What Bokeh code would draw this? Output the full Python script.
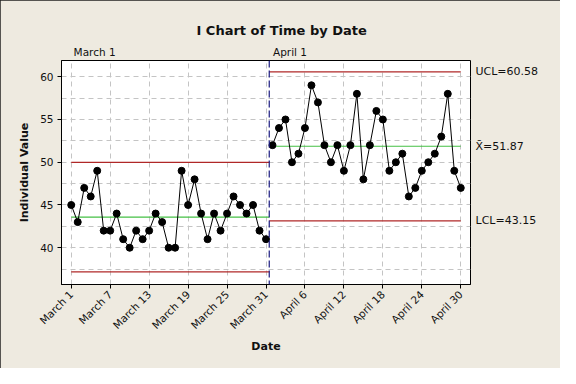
import math
from bokeh.plotting import figure
from bokeh.models import FixedTicker, Span, ColumnDataSource, LinearAxis
from bokeh.embed import file_html
from bokeh.resources import INLINE

# ---- data ----
march_values = [45, 43, 47, 46, 49, 42, 42, 44, 41, 40, 42, 41, 42, 44, 43, 40,
                40, 49, 45, 48, 44, 41, 44, 42, 44, 46, 45, 44, 45, 42, 41]
april_values = [52, 54, 55, 50, 51, 54, 59, 57, 52, 50, 52, 49, 52, 58, 48, 52,
                56, 55, 49, 50, 51, 46, 47, 49, 50, 51, 53, 58, 49, 47]
values = march_values + april_values
index = list(range(len(values)))

tick_positions = [0, 6, 12, 18, 24, 30, 36, 42, 48, 54, 60]
tick_labels = ["March 1", "March 7", "March 13", "March 19", "March 25", "March 31",
               "April 6", "April 12", "April 18", "April 24", "April 30"]

stage_names = ["March 1", "April 1"]
stage_label_x = [3.6, 33.7]
stage_start = [0, 30.5]
stage_end = [30.5, 60]
stage_center = [43.58, 51.87]
stage_ucl = [49.99, 60.58]
stage_lcl = [37.17, 43.15]
stage_split = 30.5

y_ticks = [40, 45, 50, 55, 60]
y_minor = [37.5, 42.5, 47.5, 52.5, 57.5]

FONT = "DejaVu Sans"
BG = "#EEEAE0"
TXT = "#111111"

p = figure(width=560, height=368, output_backend="svg", toolbar_location=None,
           x_range=(-1.5, 61.5), y_range=(35.7, 61.9),
           min_border_left=61, min_border_right=90, min_border_top=60, min_border_bottom=84,
           styles={"outline": "1px solid #222222", "outline-offset": "-1px"})
p.border_fill_color = BG
p.background_fill_color = "white"
p.outline_line_color = "black"
p.outline_line_width = 1

# title
p.title.text = "I Chart of Time by Date"
p.title.align = "left"
p.title.offset = 135
p.title.text_font = FONT
p.title.text_font_size = "13px"
p.title.text_font_style = "bold"
p.title.text_color = TXT

# main axes
p.xaxis.ticker = FixedTicker(ticks=tick_positions)
p.xaxis.major_label_overrides = {t: l for t, l in zip(tick_positions, tick_labels)}
p.xaxis.major_label_orientation = math.pi / 4
p.yaxis.ticker = FixedTicker(ticks=y_ticks, minor_ticks=y_minor)
for ax in (p.xaxis, p.yaxis):
    ax.major_tick_in = 0
    ax.major_tick_out = 4
    ax.minor_tick_line_color = None
    ax.axis_line_color = "black"
    ax.major_tick_line_color = "black"
    ax.major_label_text_font = FONT
    ax.major_label_text_font_size = "10.5px"
    ax.major_label_text_color = TXT
    ax.major_label_standoff = 4
    ax.axis_label_text_font = FONT
    ax.axis_label_text_font_size = "11px"
    ax.axis_label_text_font_style = "bold"
    ax.axis_label_text_color = TXT
p.xaxis.axis_label = "Date"
p.yaxis.axis_label = "Individual Value"
p.xaxis.axis_label_standoff = 2
p.yaxis.axis_label_standoff = 6

# right axis: control limit labels of last stage
right_ticks = [stage_lcl[-1], stage_center[-1], stage_ucl[-1]]
right_text = ["LCL=%.2f" % stage_lcl[-1], "X\u0304=%.2f" % stage_center[-1], "UCL=%.2f" % stage_ucl[-1]]
rax = LinearAxis(ticker=FixedTicker(ticks=right_ticks),
                 major_label_overrides={t: s for t, s in zip(right_ticks, right_text)})
# top axis: stage labels
tax = LinearAxis(ticker=FixedTicker(ticks=stage_label_x),
                 major_label_overrides={t: s for t, s in zip(stage_label_x, stage_names)})
for ax in (rax, tax):
    ax.axis_line_color = None
    ax.major_tick_line_color = None
    ax.minor_tick_line_color = None
    ax.major_tick_in = 0
    ax.major_tick_out = 0
    ax.major_label_text_font = FONT
    ax.major_label_text_font_size = "11px"
    ax.major_label_text_color = TXT
tax.major_label_text_font_size = "10.5px"
rax.major_label_standoff = 5
tax.major_label_standoff = 3
p.add_layout(rax, "right")
p.add_layout(tax, "above")

# grid
for g in (p.xgrid, p.ygrid):
    g.grid_line_color = "#C4C4C4"
    g.grid_line_dash = "5 4"
p.ygrid.minor_grid_line_color = "#C4C4C4"
p.ygrid.minor_grid_line_dash = "5 4"

# control lines per stage
for s0, s1, c, u, l in zip(stage_start, stage_end, stage_center, stage_ucl, stage_lcl):
    p.line([s0, s1], [u, u], line_color="#B02828", line_width=1.2)
    p.line([s0, s1], [l, l], line_color="#B02828", line_width=1.2)
    p.line([s0, s1], [c, c], line_color="#44C044", line_width=1.2)

# stage divider
p.add_layout(Span(location=stage_split, dimension="height", line_color="#1A1A80",
                  line_dash="7 3", line_width=1.2))

# data (separate segments per stage)
src_m = ColumnDataSource(dict(x=index[:31], y=values[:31]))
src_a = ColumnDataSource(dict(x=index[31:], y=values[31:]))
for src in (src_m, src_a):
    p.line("x", "y", source=src, line_color="black", line_width=1)
    p.scatter("x", "y", source=src, size=7, color="black")

open("out.html", "w").write(file_html(p, INLINE))
